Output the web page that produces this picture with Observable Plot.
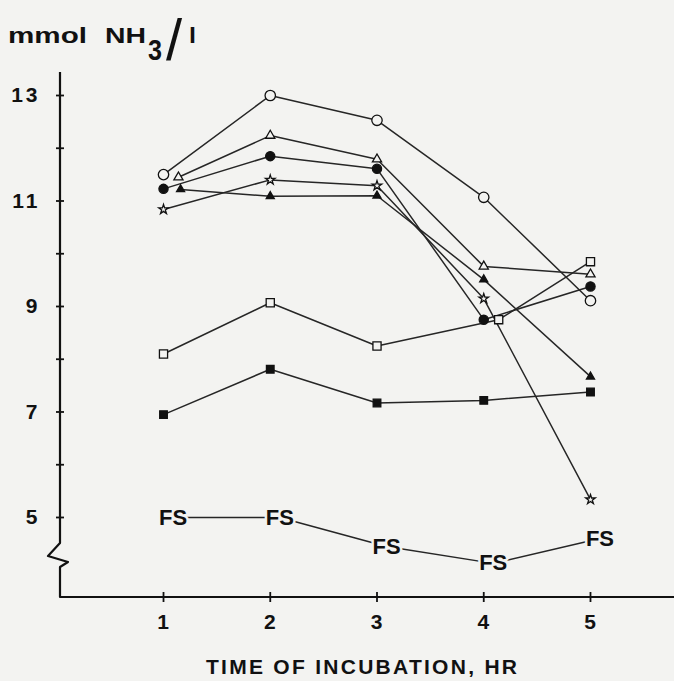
<!DOCTYPE html>
<html><head><meta charset="utf-8">
<script src="https://cdn.jsdelivr.net/npm/d3@7"></script>
<script src="https://cdn.jsdelivr.net/npm/@observablehq/plot@0.6"></script>
<style>
html,body{margin:0;padding:0;background:#f3f3f1;}
svg g[aria-label="y-axis tick label"] text{letter-spacing:3px;}
svg g[aria-label="x-axis tick label"] text{letter-spacing:1px;}
</style>
</head><body><div id="chart"></div>
<script>
// ---- data ----
const hours = [1, 2, 3, 4, 5];
const openCircle     = [11.50, 13.00, 12.53, 11.07, 9.11];
const openTriangle   = [11.45, 12.24, 11.79, 9.76, 9.61];
const filledCircle   = [11.23, 11.85, 11.61, 8.75, 9.38];
const openStar       = [10.84, 11.40, 11.29, 9.15, 5.34];
const filledTriangle = [11.22, 11.09, 11.10, 9.51, 7.67];
const openSquare     = [8.10, 9.07, 8.25, 8.75, 9.85];
const filledSquare   = [6.95, 7.81, 7.17, 7.22, 7.38];
const fsValues       = [5.00, 5.00, 4.45, 4.13, 4.60];
const fsLabel = "FS";
const yTicks = [5, 6, 7, 8, 9, 10, 11, 12, 13];
const yTickLabels = ["5", "", "7", "", "9", "", "11", "", "13"];
const xTicks = [1, 2, 3, 4, 5];
const xTickLabels = ["1", "2", "3", "4", "5"];
const xTitle = "TIME OF INCUBATION, HR";
const yTitleParts = ["mmol", "NH", "3", "/", "l"];

// ---- styles ----
const BG = "#f3f3f1", INK = "#111", LINE = "#262626";
const series = [
  {name: "openCircle", values: openCircle, symbol: "circle", fill: BG, r: 5.2},
  {name: "openTriangle", values: openTriangle, symbol: "triangle", fill: BG, r: 3.4},
  {name: "filledCircle", values: filledCircle, symbol: "circle", fill: INK, r: 4.6},
  {name: "openStar", values: openStar, symbol: "star", fill: BG, r: 3.0},
  {name: "filledTriangle", values: filledTriangle, symbol: "triangle", fill: INK, r: 3.0},
  {name: "openSquare", values: openSquare, symbol: "square", fill: BG, r: 4.6},
  {name: "filledSquare", values: filledSquare, symbol: "square", fill: INK, r: 4.3}
];
// display nudges (hours) the original drawing used to keep markers apart
const nudge = {openTriangle: {1: 0.14}, filledTriangle: {1: 0.16}, openSquare: {4: 0.14}};

const rows = series.flatMap(s => hours.map((h, i) => ({
  series: s.name, hour: h, value: s.values[i],
  xPos: h + ((nudge[s.name] || {})[h] || 0)
})));
const fsRows = hours.map((h, i) => ({hour: h, value: fsValues[i]}));

function frameMark(index, scales, values, dims) {
  const x0 = dims.marginLeft, top = dims.marginTop;
  const bottom = dims.height - dims.marginBottom, right = dims.width - dims.marginRight;
  const yb = scales.y(4.26);
  const g = d3.create("svg:g");
  g.append("path")
    .attr("d", `M${x0},${top}V${yb - 13}L${x0 - 12},${yb}L${x0 + 8},${yb + 6}L${x0},${yb + 11}V${bottom}H${right}`)
    .attr("fill", "none").attr("stroke", INK).attr("stroke-width", 2.2).attr("stroke-linejoin", "round");
  const t = g.append("g").attr("fill", INK).attr("font-weight", "bold").attr("text-anchor", "start");
  t.append("text").attr("x", 8).attr("y", 43).attr("font-size", 22)
    .attr("textLength", 79).attr("lengthAdjust", "spacingAndGlyphs").text(yTitleParts[0]);
  t.append("text").attr("x", 105).attr("y", 43).attr("font-size", 22)
    .attr("textLength", 41).attr("lengthAdjust", "spacingAndGlyphs").text(yTitleParts[1]);
  t.append("text").attr("x", 148).attr("y", 60).attr("font-size", 29)
    .attr("textLength", 14).attr("lengthAdjust", "spacingAndGlyphs").text(yTitleParts[2]);
  t.append("text").attr("x", 166).attr("y", 60).attr("font-size", 58).attr("font-weight", "normal")
    .text(yTitleParts[3]);
  t.append("text").attr("x", 189).attr("y", 43).attr("font-size", 22)
    .attr("textLength", 7).attr("lengthAdjust", "spacingAndGlyphs").text(yTitleParts[4]);
  // x-axis title
  g.append("text").attr("x", 206).attr("y", 674).attr("font-size", 21).attr("font-weight", "bold")
    .attr("fill", INK).attr("text-anchor", "start")
    .attr("textLength", 311).attr("lengthAdjust", "spacing").text(xTitle);
  return g.node();
}

const marks = [
  Plot.line(rows, {x: "xPos", y: "value", z: "series", stroke: LINE, strokeWidth: 1.5}),
  ...series.map(s => Plot.dot(rows.filter(d => d.series === s.name), {
    x: "xPos", y: "value", symbol: s.symbol, r: s.r, fill: s.fill, stroke: INK, strokeWidth: 1.3
  })),
  Plot.line(fsRows, {x: "hour", y: "value", dx: 9.5, stroke: LINE, strokeWidth: 1.5}),
  Plot.text(fsRows, {x: "hour", y: "value", text: () => fsLabel, dx: 9.5, fontSize: 22, fontWeight: "bold",
    fill: INK, stroke: BG, strokeWidth: 5}),
  Plot.axisY(yTicks, {tickSize: 4, tickPadding: 16, strokeWidth: 1.8, fontSize: 21, fontWeight: "bold",
    tickFormat: d => yTickLabels[yTicks.indexOf(d)], label: null}),
  Plot.axisY(yTicks, {tickSize: 4, dx: 4, strokeWidth: 1.8, tickFormat: () => "", label: null}),
  Plot.axisX(xTicks, {tickSize: 5, tickPadding: 12, strokeWidth: 1.8, fontSize: 21, fontWeight: "bold",
    tickFormat: d => xTickLabels[xTicks.indexOf(d)], label: null}),
  Plot.axisX(xTicks, {tickSize: 5, dy: -5, strokeWidth: 1.8, tickFormat: () => "", label: null}),
  frameMark
];

const chart = Plot.plot({
  width: 674, height: 681,
  marginLeft: 60, marginRight: 0, marginTop: 72, marginBottom: 84,
  x: {domain: [0.035, 5.787], axis: null},
  y: {domain: [3.483, 13.436], axis: null},
  style: {background: BG, color: INK, fontFamily: "'Liberation Sans', Arial, sans-serif", fontSize: "21px", overflow: "visible"},
  marks
});
document.getElementById("chart").appendChild(chart);
</script>
</body></html>
